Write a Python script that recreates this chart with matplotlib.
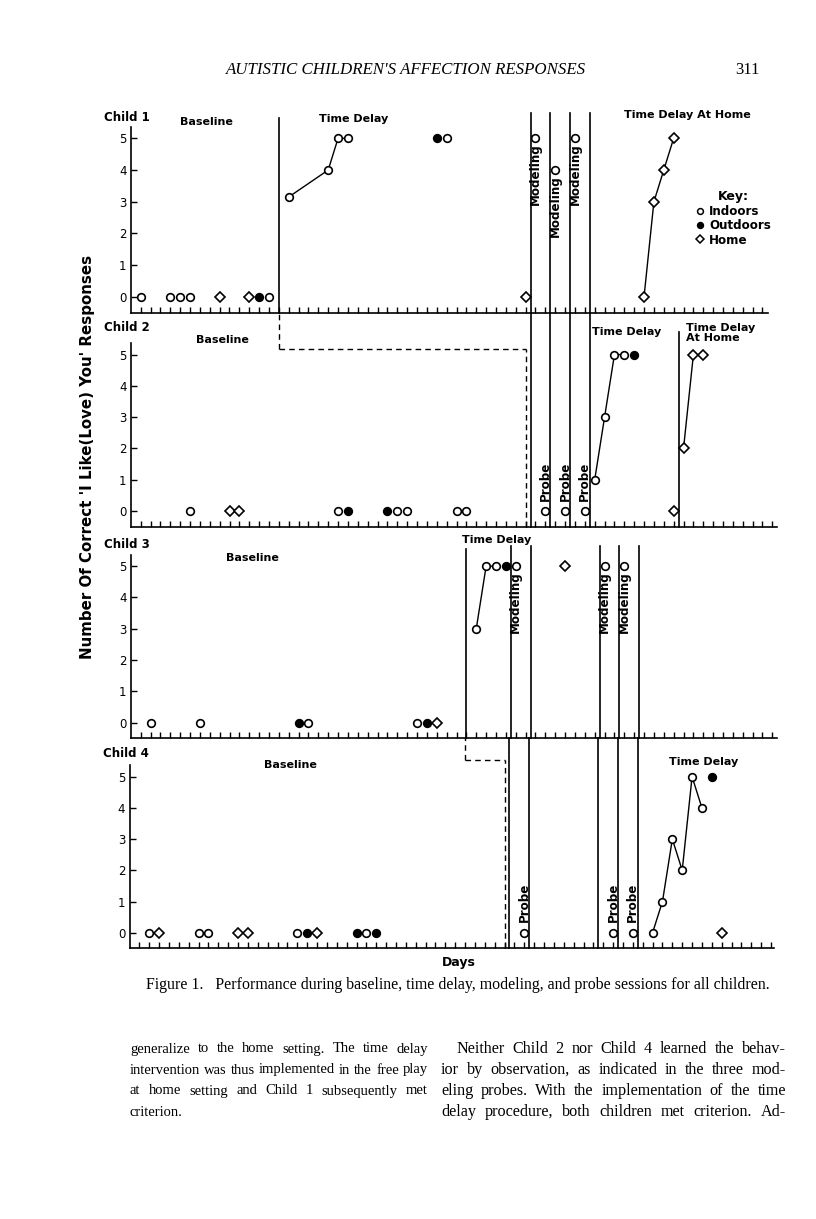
import matplotlib
matplotlib.use("Agg")
import matplotlib.pyplot as plt
from matplotlib.lines import Line2D

# ---- data: session day and number of correct responses ----
# Child 1
c1_in_days = [1, 4, 5, 6, 14, 16, 20, 21, 22, 32, 41, 43, 45]
c1_in_vals = [0, 0, 0, 0, 0, 3.15, 4, 5, 5, 5, 5, 4, 5]
c1_out_days = [13, 31]
c1_out_vals = [0, 5]
c1_home_days = [9, 12, 40, 52, 53, 54, 55]
c1_home_vals = [0, 0, 0, 0, 3, 4, 5]
c1_runs = [([16, 20, 21, 22], [3.15, 4, 5, 5]), ([52, 53, 54, 55], [0, 3, 4, 5])]
c1_modeling = [41, 43, 45]

# Child 2
c2_in_days = [6, 21, 27, 28, 33, 34, 42, 44, 46, 47, 48, 49, 50]
c2_in_vals = [0, 0, 0, 0, 0, 0, 0, 0, 0, 1, 3, 5, 5]
c2_out_days = [22, 26, 51]
c2_out_vals = [0, 0, 5]
c2_home_days = [10, 11, 55, 56, 57, 58]
c2_home_vals = [0, 0, 0, 2, 5, 5]
c2_runs = [([47, 48, 49, 50], [1, 3, 5, 5]), ([56, 57, 58], [2, 5, 5])]
c2_probe = [42, 44, 46]

# Child 3
c3_in_days = [2, 7, 18, 29, 35, 36, 37, 39, 48, 50]
c3_in_vals = [0, 0, 0, 0, 3, 5, 5, 5, 5, 5]
c3_out_days = [17, 30, 38]
c3_out_vals = [0, 0, 5]
c3_home_days = [31, 44]
c3_home_vals = [0, 5]
c3_runs = [([35, 36, 37], [3, 5, 5])]
c3_modeling = [39, 48, 50]

# Child 4
c4_in_days = [2, 7, 8, 17, 24, 40, 49, 51, 53, 54, 55, 56, 57, 58]
c4_in_vals = [0, 0, 0, 0, 0, 0, 0, 0, 0, 1, 3, 2, 5, 4]
c4_out_days = [18, 23, 25, 59]
c4_out_vals = [0, 0, 0, 5]
c4_home_days = [3, 11, 12, 19, 60]
c4_home_vals = [0, 0, 0, 0, 0]
c4_runs = [([53, 54, 55, 56, 57, 58], [0, 1, 3, 2, 5, 4])]
c4_probe = [40, 49, 51]

# phase change lines (days)
c1_phase = 15
model_lines_12 = [40.5, 42.5, 44.5, 46.5]
c2_dash_end = 40
c2_home_line = 55.5
c3_phase = 34
model_lines_34 = [38.5, 40.5, 47.5, 49.5, 51.5]
c4_dash_end = 38

W, H = 816, 1219
BOLD = dict(family="DejaVu Sans", weight="bold")
fig = plt.figure(figsize=(W / 100, H / 100), dpi=100)


def make_ax(left, right, top, bottom, xmax):
    ax = fig.add_axes([left / W, 1 - bottom / H, (right - left) / W, (bottom - top) / H])
    ax.set_xlim(0, xmax)
    ax.set_ylim(-0.5, 5.37)
    for s in ["top", "right"]:
        ax.spines[s].set_visible(False)
    for s in ["left", "bottom"]:
        ax.spines[s].set_linewidth(1.2)
    ax.set_xticks(range(1, int(xmax) + 1))
    ax.set_xticklabels([])
    ax.tick_params(axis="x", direction="in", length=4, width=1)
    ax.set_yticks(range(6))
    ax.tick_params(axis="y", direction="in", length=4, width=1, labelsize=8.5, pad=3)
    ax.patch.set_alpha(0)
    return ax


def draw_points(ax, in_d, in_v, out_d, out_v, home_d, home_v, runs):
    for d, v in runs:
        ax.plot(d, v, color="k", lw=1, zorder=2, clip_on=False)
    ax.plot(in_d, in_v, "o", ms=5.5, mfc="white", mec="k", mew=1.2, ls="none", zorder=3, clip_on=False)
    ax.plot(out_d, out_v, "o", ms=5.5, mfc="k", mec="k", mew=1.2, ls="none", zorder=3, clip_on=False)
    ax.plot(home_d, home_v, "D", ms=5.2, mfc="white", mec="k", mew=1.2, ls="none", zorder=3, clip_on=False)


def vline(ax, x, y0, y1, dashed=False):
    ls = (0, (4, 3)) if dashed else "-"
    ax.plot([x, x], [y0, y1], color="k", lw=1.0 if dashed else 1.2, ls=ls, clip_on=False, zorder=1)


def hline(ax, y, x0, x1):
    ax.plot([x0, x1], [y, y], color="k", lw=1.0, ls=(0, (4, 3)), clip_on=False, zorder=1)


ax1 = make_ax(130.8, 768.0, 126.6, 312.7, 64.56)
ax2 = make_ax(130.8, 776.8, 343.0, 526.7, 65.45)
ax3 = make_ax(130.8, 776.8, 554.6, 738.3, 65.45)
ax4 = make_ax(129.5, 774.0, 765.2, 948.3, 65.3)

# ---- Child 1 ----
draw_points(ax1, c1_in_days, c1_in_vals, c1_out_days, c1_out_vals, c1_home_days, c1_home_vals, c1_runs)
vline(ax1, c1_phase, -0.5, 5.64)
for x in model_lines_12:
    vline(ax1, x, -0.5, 5.8)
for d in c1_modeling:
    v = c1_in_vals[c1_in_days.index(d)]
    ax1.text(d, v - 0.15, "Modeling", rotation=90, ha="center", va="top", fontsize=8.6, **BOLD)
ax1.text(-2.7, 5.67, "Child 1", ha="left", va="center", fontsize=8.5, **BOLD)
ax1.text(7.7, 5.52, "Baseline", ha="center", va="center", fontsize=8, **BOLD)
ax1.text(22.6, 5.6, "Time Delay", ha="center", va="center", fontsize=8, **BOLD)
ax1.text(56.4, 5.73, "Time Delay At Home", ha="center", va="center", fontsize=8, **BOLD)

handles = [
    Line2D([], [], marker="o", ls="none", ms=4.2, mfc="white", mec="k", mew=1.1),
    Line2D([], [], marker="o", ls="none", ms=4.2, mfc="k", mec="k", mew=1.1),
    Line2D([], [], marker="D", ls="none", ms=4.5, mfc="white", mec="k", mew=1.1),
]
leg = ax1.legend(handles, ["Indoors", "Outdoors", "Home"], title="Key:",
                 loc="upper left", bbox_to_anchor=(57.3, 3.36), bbox_transform=ax1.transData,
                 frameon=False, prop=dict(size=8.6, **BOLD), title_fontproperties=dict(size=9, **BOLD),
                 handlelength=0.6, handletextpad=0.45, labelspacing=0.12, borderpad=0, borderaxespad=0)

# ---- Child 2 ----
draw_points(ax2, c2_in_days, c2_in_vals, c2_out_days, c2_out_vals, c2_home_days, c2_home_vals, c2_runs)
for x in model_lines_12:
    vline(ax2, x, -0.5, 6.34)
vline(ax2, c1_phase, 5.18, 6.34, dashed=True)
hline(ax2, 5.18, c1_phase, c2_dash_end)
vline(ax2, c2_dash_end, -0.5, 5.18, dashed=True)
vline(ax2, c2_home_line, -0.5, 5.73)
for d in c2_probe:
    ax2.text(d, 0.33, "Probe", rotation=90, ha="center", va="bottom", fontsize=8.6, **BOLD)
ax2.text(-2.7, 5.85, "Child 2", ha="left", va="center", fontsize=8.5, **BOLD)
ax2.text(9.25, 5.47, "Baseline", ha="center", va="center", fontsize=8, **BOLD)
ax2.text(50.2, 5.73, "Time Delay", ha="center", va="center", fontsize=8, **BOLD)
ax2.text(56.2, 5.68, "Time Delay\nAt Home", ha="left", va="center", fontsize=8,
         linespacing=1.05, **BOLD)

# ---- Child 3 ----
draw_points(ax3, c3_in_days, c3_in_vals, c3_out_days, c3_out_vals, c3_home_days, c3_home_vals, c3_runs)
vline(ax3, c3_phase, -0.5, 5.54)
for x in model_lines_34:
    vline(ax3, x, -0.5, 5.64)
for d in c3_modeling:
    v = c3_in_vals[c3_in_days.index(d)]
    ax3.text(d, v - 0.15, "Modeling", rotation=90, ha="center", va="top", fontsize=8.6, **BOLD)
ax3.text(-2.7, 5.68, "Child 3", ha="left", va="center", fontsize=8.5, **BOLD)
ax3.text(12.3, 5.26, "Baseline", ha="center", va="center", fontsize=8, **BOLD)
ax3.text(37.1, 5.84, "Time Delay", ha="center", va="center", fontsize=8, **BOLD)

# ---- Child 4 ----
draw_points(ax4, c4_in_days, c4_in_vals, c4_out_days, c4_out_vals, c4_home_days, c4_home_vals, c4_runs)
for x in model_lines_34:
    vline(ax4, x, -0.5, 6.23)
vline(ax4, c3_phase, 5.54, 6.23, dashed=True)
hline(ax4, 5.54, c3_phase, c4_dash_end)
vline(ax4, c4_dash_end, -0.5, 5.54, dashed=True)
for d in c4_probe:
    ax4.text(d, 0.33, "Probe", rotation=90, ha="center", va="bottom", fontsize=8.6, **BOLD)
ax4.text(-2.7, 5.76, "Child 4", ha="left", va="center", fontsize=8.5, **BOLD)
ax4.text(16.3, 5.37, "Baseline", ha="center", va="center", fontsize=8, **BOLD)
ax4.text(58.2, 5.47, "Time Delay", ha="center", va="center", fontsize=8, **BOLD)
ax4.text(33.4, -0.97, "Days", ha="center", va="center", fontsize=9, **BOLD)

# y label shared by all panels
fig.text(88 / W, 1 - 457 / H, "Number Of Correct 'I Like(Love) You' Responses",
         rotation=90, ha="center", va="center", fontsize=10.8, **BOLD)

# ---- page furniture ----
serif = "Liberation Serif"
fig.text(406 / W, 1 - 70 / H, "AUTISTIC CHILDREN'S AFFECTION RESPONSES", ha="center", va="center",
         family=serif, style="italic", fontsize=12.2)
fig.text(747 / W, 1 - 70 / H, "311", ha="center", va="center", family=serif, fontsize=12)
fig.text(146 / W, 1 - 985 / H,
         "Figure 1.   Performance during baseline, time delay, modeling, and probe sessions for all children.",
         ha="left", va="center", family=serif, fontsize=11.45)

left_col = ["generalize to the home setting. The time delay",
            "intervention was thus implemented in the free play",
            "at home setting and Child 1 subsequently met",
            "criterion."]
right_col = ["Neither Child 2 nor Child 4 learned the behav-",
             "ior by observation, as indicated in the three mod-",
             "eling probes. With the implementation of the time",
             "delay procedure, both children met criterion. Ad-"]

renderer = fig.canvas.get_renderer()


def justified(line, x0, x1, y, fs, justify=True):
    words = line.split()
    texts = [fig.text(0, 1 - y / H, w, ha="left", va="center", family=serif, fontsize=fs) for w in words]
    widths = [t.get_window_extent(renderer).width for t in texts]
    if justify and len(words) > 1:
        gap = (x1 - x0 - sum(widths)) / (len(words) - 1)
    else:
        gap = fs * 0.25 * 100 / 72
    x = x0
    for t, w in zip(texts, widths):
        t.set_x(x / W)
        x += w + gap


for i, line in enumerate(left_col):
    justified(line, 130, 428, 1049 + 21 * i, 10.5, justify=i < len(left_col) - 1)
for i, line in enumerate(right_col):
    justified(line, 456 if i == 0 else 441, 786, 1049 + 21 * i, 11.6)

fig.savefig("out.png", dpi=100, facecolor="white")
